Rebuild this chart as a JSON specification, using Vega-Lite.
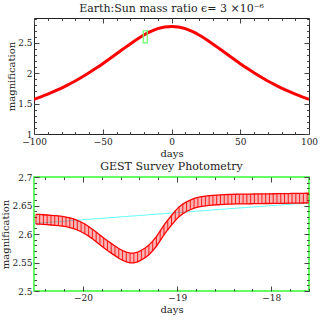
{
  "$schema": "https://vega.github.io/schema/vega-lite/v6.json",
  "padding": {"left": 0, "top": 2, "right": 5, "bottom": 0},
  "spacing": 1,
  "config": {
    "font": "DejaVu Serif",
    "axis": {"domain": false, "grid": false, "labelFont": "DejaVu Serif", "labelFontSize": 9, "labelColor": "#222", "titleFont": "DejaVu Serif", "titleFontSize": 10, "titleFontWeight": "normal", "titleColor": "#222", "tickColor": "#444", "labelOverlap": false, "labelFlush": false},
    "title": {"font": "DejaVu Serif", "fontSize": 11, "fontWeight": "normal", "color": "#222", "offset": 1},
    "view": {"stroke": "#222", "strokeWidth": 1}
  },
  "datasets": {
    "phot": [
      {"t": -20.50, "A": 2.6260, "e": 0.0085}, {"t": -20.46, "A": 2.6258, "e": 0.0085}, {"t": -20.42, "A": 2.6253, "e": 0.0085},
      {"t": -20.38, "A": 2.6248, "e": 0.0085}, {"t": -20.34, "A": 2.6243, "e": 0.0085}, {"t": -20.30, "A": 2.6238, "e": 0.0085},
      {"t": -20.26, "A": 2.6232, "e": 0.0085}, {"t": -20.22, "A": 2.6224, "e": 0.0085}, {"t": -20.18, "A": 2.6213, "e": 0.0085},
      {"t": -20.14, "A": 2.6198, "e": 0.0085}, {"t": -20.10, "A": 2.6180, "e": 0.0085}, {"t": -20.06, "A": 2.6155, "e": 0.0085},
      {"t": -20.02, "A": 2.6125, "e": 0.0085}, {"t": -19.98, "A": 2.6090, "e": 0.0085}, {"t": -19.94, "A": 2.6048, "e": 0.0085},
      {"t": -19.90, "A": 2.6000, "e": 0.0085}, {"t": -19.86, "A": 2.5950, "e": 0.0085}, {"t": -19.82, "A": 2.5898, "e": 0.0085},
      {"t": -19.78, "A": 2.5845, "e": 0.0085}, {"t": -19.74, "A": 2.5795, "e": 0.0085}, {"t": -19.70, "A": 2.5750, "e": 0.0085},
      {"t": -19.66, "A": 2.5705, "e": 0.0085}, {"t": -19.62, "A": 2.5660, "e": 0.0085}, {"t": -19.58, "A": 2.5625, "e": 0.0085},
      {"t": -19.54, "A": 2.5597, "e": 0.0085}, {"t": -19.50, "A": 2.5580, "e": 0.0085}, {"t": -19.46, "A": 2.5578, "e": 0.0085},
      {"t": -19.42, "A": 2.5595, "e": 0.0085}, {"t": -19.38, "A": 2.5630, "e": 0.0085}, {"t": -19.34, "A": 2.5670, "e": 0.0085},
      {"t": -19.30, "A": 2.5720, "e": 0.0085}, {"t": -19.26, "A": 2.5790, "e": 0.0085}, {"t": -19.22, "A": 2.5870, "e": 0.0085},
      {"t": -19.18, "A": 2.5970, "e": 0.0085}, {"t": -19.14, "A": 2.6070, "e": 0.0085}, {"t": -19.10, "A": 2.6160, "e": 0.0085},
      {"t": -19.06, "A": 2.6240, "e": 0.0085}, {"t": -19.02, "A": 2.6320, "e": 0.0085}, {"t": -18.98, "A": 2.6390, "e": 0.0085},
      {"t": -18.94, "A": 2.6440, "e": 0.0085}, {"t": -18.90, "A": 2.6480, "e": 0.0085}, {"t": -18.86, "A": 2.6510, "e": 0.0085},
      {"t": -18.82, "A": 2.6540, "e": 0.0085}, {"t": -18.78, "A": 2.6558, "e": 0.0085}, {"t": -18.74, "A": 2.6570, "e": 0.0085},
      {"t": -18.70, "A": 2.6580, "e": 0.0085}, {"t": -18.66, "A": 2.6587, "e": 0.0085}, {"t": -18.62, "A": 2.6593, "e": 0.0085},
      {"t": -18.58, "A": 2.6598, "e": 0.0085}, {"t": -18.54, "A": 2.6602, "e": 0.0085}, {"t": -18.50, "A": 2.6605, "e": 0.0085},
      {"t": -18.46, "A": 2.6608, "e": 0.0085}, {"t": -18.42, "A": 2.6610, "e": 0.0085}, {"t": -18.38, "A": 2.6612, "e": 0.0085},
      {"t": -18.34, "A": 2.6613, "e": 0.0085}, {"t": -18.30, "A": 2.6614, "e": 0.0085}, {"t": -18.26, "A": 2.6615, "e": 0.0085},
      {"t": -18.22, "A": 2.6616, "e": 0.0085}, {"t": -18.18, "A": 2.6617, "e": 0.0085}, {"t": -18.14, "A": 2.6618, "e": 0.0085},
      {"t": -18.10, "A": 2.6619, "e": 0.0085}, {"t": -18.06, "A": 2.6620, "e": 0.0085}, {"t": -18.02, "A": 2.6620, "e": 0.0085},
      {"t": -17.98, "A": 2.6621, "e": 0.0085}, {"t": -17.94, "A": 2.6622, "e": 0.0085}, {"t": -17.90, "A": 2.6623, "e": 0.0085},
      {"t": -17.86, "A": 2.6624, "e": 0.0085}, {"t": -17.82, "A": 2.6625, "e": 0.0085}, {"t": -17.78, "A": 2.6626, "e": 0.0085},
      {"t": -17.74, "A": 2.6627, "e": 0.0085}, {"t": -17.70, "A": 2.6628, "e": 0.0085}, {"t": -17.66, "A": 2.6629, "e": 0.0085},
      {"t": -17.62, "A": 2.6630, "e": 0.0085}, {"t": -17.58, "A": 2.6631, "e": 0.0085}
    ]
  },
  "vconcat": [
    {
      "width": 275,
      "height": 116,
      "title": "Earth:Sun mass ratio  ϵ= 3 ×10⁻⁶",
      "view": {"stroke": "#222"},
      "resolve": {"axis": {"x": "independent", "y": "independent"}},
      "layer": [
        {
          "data": {"values": [
            {"t": -100, "A": 1.5696}, {"t": -95, "A": 1.6110}, {"t": -90, "A": 1.6558}, {"t": -85, "A": 1.7043},
            {"t": -80, "A": 1.7566}, {"t": -75, "A": 1.8129}, {"t": -70, "A": 1.8734}, {"t": -65, "A": 1.9383},
            {"t": -60, "A": 2.0075}, {"t": -55, "A": 2.0807}, {"t": -50, "A": 2.1578}, {"t": -45, "A": 2.2379},
            {"t": -40, "A": 2.3200}, {"t": -35, "A": 2.4026}, {"t": -30, "A": 2.4836}, {"t": -25, "A": 2.5604},
            {"t": -20, "A": 2.6300}, {"t": -15, "A": 2.6889}, {"t": -10, "A": 2.7340}, {"t": -5, "A": 2.7623},
            {"t": 0, "A": 2.7720}, {"t": 5, "A": 2.7623}, {"t": 10, "A": 2.7340}, {"t": 15, "A": 2.6889},
            {"t": 20, "A": 2.6300}, {"t": 25, "A": 2.5604}, {"t": 30, "A": 2.4836}, {"t": 35, "A": 2.4026},
            {"t": 40, "A": 2.3200}, {"t": 45, "A": 2.2379}, {"t": 50, "A": 2.1578}, {"t": 55, "A": 2.0807},
            {"t": 60, "A": 2.0075}, {"t": 65, "A": 1.9383}, {"t": 70, "A": 1.8734}, {"t": 75, "A": 1.8129},
            {"t": 80, "A": 1.7566}, {"t": 85, "A": 1.7043}, {"t": 90, "A": 1.6558}, {"t": 95, "A": 1.6110},
            {"t": 100, "A": 1.5696}
          ]},
          "mark": {"type": "line", "color": "#ff0000", "strokeWidth": 3, "interpolate": "monotone", "clip": true},
          "encoding": {
            "x": {"field": "t", "type": "quantitative", "scale": {"domain": [-100, 100], "nice": false, "zero": false},
              "axis": {"orient": "bottom", "title": "days", "titlePadding": 0,
                "values": [-100, -90, -80, -70, -60, -50, -40, -30, -20, -10, 0, 10, 20, 30, 40, 50, 60, 70, 80, 90, 100],
                "tickSize": {"condition": {"test": "datum.value % 50 === 0", "value": -5}, "value": -2.5},
                "labelPadding": 8,
                "labelExpr": "datum.value % 50 === 0 ? format(datum.value, '') : ''"}},
            "y": {"field": "A", "type": "quantitative", "scale": {"domain": [1, 2.91], "nice": false, "zero": false},
              "axis": {"orient": "left", "title": "magnification", "titlePadding": 1,
                "values": [1, 1.1, 1.2, 1.3, 1.4, 1.5, 1.6, 1.7, 1.8, 1.9, 2, 2.1, 2.2, 2.3, 2.4, 2.5, 2.6, 2.7, 2.8, 2.9],
                "tickSize": {"condition": {"test": "abs(datum.value*2 - round(datum.value*2)) < 0.001", "value": -5}, "value": -2.5},
                "labelPadding": 7,
                "labelExpr": "abs(datum.value*2 - round(datum.value*2)) < 0.001 ? format(datum.value, '') : ''"}}
          }
        },
        {
          "data": {"values": [{"t1": -20.5, "t2": -17.6, "m1": 2.5, "m2": 2.7}]},
          "mark": {"type": "rect", "fill": null, "stroke": "#66ff66", "strokeWidth": 1.2},
          "encoding": {
            "x": {"field": "t1", "type": "quantitative",
              "axis": {"orient": "top", "title": null, "labels": false,
                "values": [-100, -90, -80, -70, -60, -50, -40, -30, -20, -10, 0, 10, 20, 30, 40, 50, 60, 70, 80, 90, 100],
                "tickSize": {"condition": {"test": "datum.value % 50 === 0", "value": -5}, "value": -2.5}}},
            "x2": {"field": "t2"},
            "y": {"field": "m1", "type": "quantitative",
              "axis": {"orient": "right", "title": null, "labels": false,
                "values": [1, 1.1, 1.2, 1.3, 1.4, 1.5, 1.6, 1.7, 1.8, 1.9, 2, 2.1, 2.2, 2.3, 2.4, 2.5, 2.6, 2.7, 2.8, 2.9],
                "tickSize": {"condition": {"test": "abs(datum.value*2 - round(datum.value*2)) < 0.001", "value": -5}, "value": -2.5}}},
            "y2": {"field": "m2"}
          }
        }
      ]
    },
    {
      "width": 275,
      "height": 114,
      "title": "GEST Survey Photometry",
      "view": {"stroke": "#33ff33", "strokeWidth": 1.5},
      "resolve": {"axis": {"x": "independent", "y": "independent"}},
      "layer": [
        {
          "data": {"values": [
            {"t": -20.52, "A": 2.6185}, {"t": -20.0, "A": 2.6250}, {"t": -19.5, "A": 2.6313},
            {"t": -19.0, "A": 2.6375}, {"t": -18.5, "A": 2.6437}, {"t": -18.0, "A": 2.6497}, {"t": -17.6, "A": 2.6545}
          ]},
          "mark": {"type": "line", "color": "#66ffff", "strokeWidth": 1, "clip": true},
          "encoding": {
            "x": {"field": "t", "type": "quantitative", "scale": {"domain": [-20.52, -17.6], "nice": false, "zero": false},
              "axis": {"orient": "top", "title": null, "labels": false,
                "values": [-20.4, -20.2, -20, -19.8, -19.6, -19.4, -19.2, -19, -18.8, -18.6, -18.4, -18.2, -18, -17.8, -17.6],
                "tickSize": {"condition": {"test": "abs(datum.value - round(datum.value)) < 0.001", "value": -5}, "value": -2.5}}},
            "y": {"field": "A", "type": "quantitative", "scale": {"domain": [2.5, 2.7], "nice": false, "zero": false},
              "axis": {"orient": "right", "title": null, "labels": false,
                "values": [2.5, 2.51, 2.52, 2.53, 2.54, 2.55, 2.56, 2.57, 2.58, 2.59, 2.6, 2.61, 2.62, 2.63, 2.64, 2.65, 2.66, 2.67, 2.68, 2.69, 2.7],
                "tickSize": {"condition": {"test": "abs(datum.value*20 - round(datum.value*20)) < 0.001", "value": -5}, "value": -2.5}}}
          }
        },
        {
          "data": {"name": "phot"},
          "mark": {"type": "errorband", "color": "#ff0000", "opacity": 0.3, "borders": {"color": "#ff0000", "strokeWidth": 1.3, "opacity": 1}, "clip": true},
          "encoding": {
            "x": {"field": "t", "type": "quantitative",
              "axis": {"orient": "bottom", "title": "days", "titlePadding": 0,
                "values": [-20.4, -20.2, -20, -19.8, -19.6, -19.4, -19.2, -19, -18.8, -18.6, -18.4, -18.2, -18, -17.8, -17.6],
                "tickSize": {"condition": {"test": "abs(datum.value - round(datum.value)) < 0.001", "value": -5}, "value": -2.5},
                "labelPadding": 7,
                "labelExpr": "abs(datum.value - round(datum.value)) < 0.001 ? format(datum.value, '') : ''"}},
            "y": {"field": "A", "type": "quantitative",
              "axis": {"orient": "left", "title": "magnification", "titlePadding": 1,
                "values": [2.5, 2.51, 2.52, 2.53, 2.54, 2.55, 2.56, 2.57, 2.58, 2.59, 2.6, 2.61, 2.62, 2.63, 2.64, 2.65, 2.66, 2.67, 2.68, 2.69, 2.7],
                "tickSize": {"condition": {"test": "abs(datum.value*20 - round(datum.value*20)) < 0.001", "value": -5}, "value": -2.5},
                "labelPadding": 7,
                "labelExpr": "abs(datum.value*20 - round(datum.value*20)) < 0.001 ? format(datum.value, '') : ''"}},
            "yError": {"field": "e"}
          }
        },
        {
          "data": {"name": "phot"},
          "mark": {"type": "errorbar", "ticks": false, "rule": {"color": "#ff0000", "strokeWidth": 1, "opacity": 0.85}, "clip": true},
          "encoding": {
            "x": {"field": "t", "type": "quantitative", "axis": null},
            "y": {"field": "A", "type": "quantitative", "axis": null},
            "yError": {"field": "e"}
          }
        }
      ]
    }
  ]
}
